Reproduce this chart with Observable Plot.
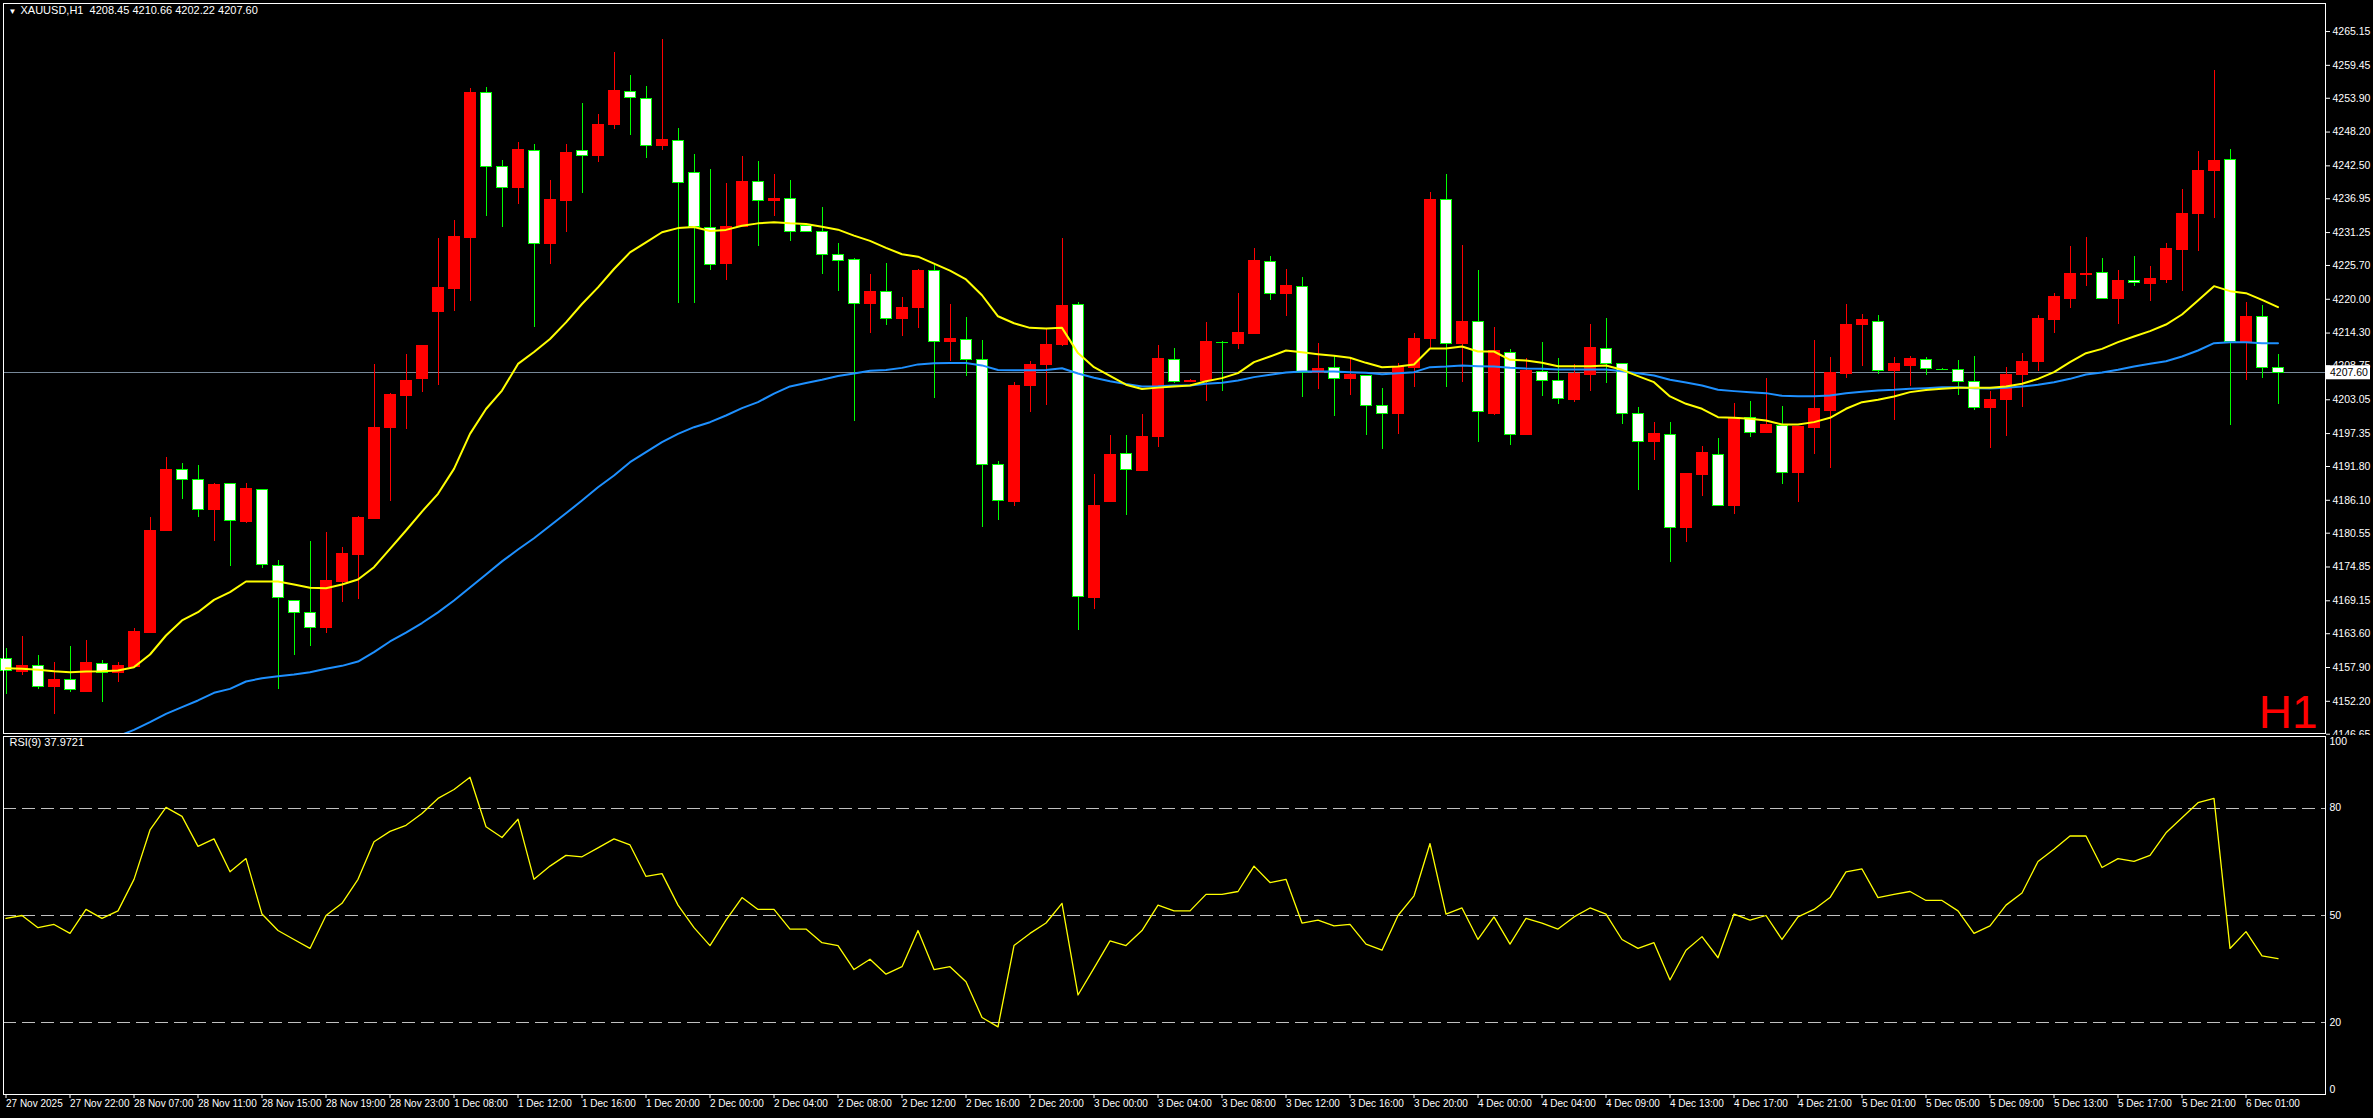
<!DOCTYPE html>
<html><head><meta charset="utf-8">
<script src="https://cdn.jsdelivr.net/npm/d3@7"></script>
<script src="https://cdn.jsdelivr.net/npm/@observablehq/plot@0.6"></script>
<style>
html,body{margin:0;padding:0;background:#000;overflow:hidden;}
#wrap{position:relative;width:2373px;height:1118px;background:#000;}
#wrap svg{position:absolute;left:0;}
</style></head><body><div id="wrap"></div>
<script>
const symbol = "XAUUSD,H1";
const timeframe = "H1";
const rsiName = "RSI(9)";
const rsiLast = 37.9721;

const opens = [4159.37,4157.12,4158.07,4154.59,4155.71,4153.85,4158.46,4156.95,4157.96,4163.69,4180.89,4191.24,4189.55,4184.43,4188.87,4182.41,4187.86,4175.05,4169.14,4167.12,4164.53,4172.29,4176.85,4182.86,4198.26,4203.66,4206.53,4217.82,4221.70,4230.30,4254.81,4242.28,4238.74,4245.00,4229.24,4236.49,4245.03,4244.13,4249.31,4254.98,4253.80,4245.82,4246.72,4241.32,4232.00,4225.92,4232.27,4239.75,4236.55,4236.95,4232.40,4231.39,4227.48,4226.66,4219.14,4221.27,4216.66,4218.49,4224.76,4212.81,4213.11,4209.73,4191.98,4185.89,4205.30,4208.85,4212.22,4219.02,4169.67,4185.88,4193.93,4191.09,4196.83,4209.79,4206.03,4206.30,4212.66,4212.43,4214.12,4226.32,4220.86,4222.10,4207.54,4208.38,4206.47,4207.09,4202.03,4200.57,4208.49,4213.22,4236.77,4212.43,4216.14,4200.68,4210.97,4197.03,4207.77,4206.25,4202.93,4207.15,4211.64,4209.12,4200.68,4195.91,4197.14,4181.40,4190.29,4193.77,4185.11,4200.01,4197.37,4198.66,4190.68,4198.27,4201.08,4207.37,4215.58,4216.20,4207.82,4208.72,4209.79,4208.15,4208.10,4206.02,4201.63,4202.98,4207.31,4209.39,4216.48,4220.02,4224.15,4224.46,4220.02,4223.11,4222.55,4223.33,4228.39,4234.46,4241.71,4243.51,4212.76,4217.04,4208.45];
const highs = [4161.06,4163.13,4159.93,4158.80,4161.44,4162.45,4159.08,4158.80,4164.42,4183.14,4193.26,4192.30,4191.97,4188.93,4188.87,4188.87,4187.86,4175.89,4169.14,4179.15,4180.67,4178.14,4183.37,4209.00,4204.05,4210.69,4212.20,4230.19,4233.28,4255.49,4255.66,4243.40,4246.38,4246.10,4240.03,4246.10,4252.96,4251.10,4261.61,4257.74,4255.88,4263.81,4248.74,4244.41,4241.88,4239.47,4244.08,4243.23,4241.04,4240.03,4232.60,4235.47,4229.38,4226.90,4224.23,4226.01,4220.38,4225.10,4225.71,4219.08,4217.01,4212.99,4192.57,4205.89,4209.44,4215.06,4230.27,4219.40,4190.50,4197.01,4197.01,4200.56,4212.28,4211.70,4206.40,4216.09,4212.88,4220.92,4228.56,4227.21,4225.02,4223.67,4212.60,4210.41,4209.96,4207.10,4204.96,4209.11,4214.29,4238.06,4241.04,4229.01,4224.85,4215.19,4211.53,4209.96,4212.66,4210.02,4209.00,4215.75,4216.76,4209.12,4201.75,4199.22,4199.22,4190.45,4195.18,4196.53,4202.43,4202.76,4206.64,4201.92,4198.55,4213.05,4210.18,4219.12,4217.44,4217.21,4210.18,4210.41,4210.18,4208.30,4209.67,4210.35,4204.45,4208.55,4210.91,4217.26,4220.97,4228.90,4230.42,4226.87,4224.85,4227.21,4225.52,4229.40,4238.51,4244.92,4258.58,4245.26,4219.45,4218.95,4210.66];
const lows = [4153.29,4156.55,4154.19,4149.92,4153.74,4153.74,4152.06,4155.43,4157.96,4163.69,4180.89,4186.18,4183.14,4179.21,4174.99,4182.24,4174.65,4154.19,4159.93,4161.50,4163.69,4168.92,4169.37,4182.86,4185.90,4197.98,4204.33,4205.46,4217.99,4219.68,4234.01,4232.16,4236.04,4215.30,4225.86,4231.32,4237.89,4243.12,4248.57,4247.62,4243.79,4245.14,4219.34,4219.34,4224.85,4223.22,4232.16,4228.90,4234.01,4229.79,4231.20,4224.23,4221.27,4199.38,4214.29,4215.65,4213.76,4215.06,4203.22,4209.44,4206.95,4181.51,4182.69,4185.06,4200.98,4202.04,4212.10,4164.17,4167.72,4185.88,4183.58,4191.09,4194.94,4205.74,4205.90,4202.82,4204.51,4211.53,4214.12,4219.79,4217.15,4203.44,4204.79,4200.23,4203.77,4197.03,4194.67,4197.20,4205.12,4211.64,4205.12,4205.97,4195.90,4200.40,4195.34,4197.03,4203.66,4202.26,4202.65,4204.45,4205.80,4198.94,4187.76,4192.81,4175.67,4179.04,4186.74,4185.17,4183.71,4196.69,4197.30,4188.77,4185.79,4193.83,4191.52,4206.70,4208.72,4207.26,4199.62,4205.29,4207.14,4208.00,4203.77,4201.24,4194.89,4196.91,4201.80,4207.87,4214.28,4218.50,4222.21,4220.07,4215.80,4222.21,4219.68,4222.66,4221.37,4228.05,4233.62,4198.71,4206.30,4206.69,4202.22];
const closes = [4157.23,4158.07,4154.59,4155.71,4154.14,4158.69,4157.00,4158.18,4163.97,4181.00,4191.29,4189.55,4184.49,4188.76,4182.63,4187.92,4175.21,4169.65,4167.12,4164.59,4172.57,4176.96,4183.03,4198.37,4203.83,4206.30,4212.04,4221.82,4230.58,4254.87,4242.39,4238.79,4245.09,4229.35,4236.66,4244.75,4244.19,4249.42,4255.04,4253.97,4245.82,4246.94,4239.58,4232.16,4225.81,4232.27,4239.86,4236.60,4236.99,4231.33,4231.33,4227.48,4226.48,4219.20,4221.27,4216.72,4218.61,4224.82,4212.81,4213.28,4209.73,4191.98,4185.95,4205.41,4208.96,4212.34,4218.79,4169.79,4185.06,4193.76,4191.21,4196.83,4209.85,4206.08,4206.30,4212.71,4212.56,4214.23,4226.37,4220.92,4222.16,4207.54,4208.27,4206.53,4207.15,4201.98,4200.68,4208.55,4213.33,4236.77,4212.49,4216.20,4201.02,4211.36,4197.14,4207.82,4206.25,4203.21,4207.32,4211.70,4209.06,4200.68,4195.96,4197.20,4181.40,4190.45,4194.00,4185.17,4200.01,4197.48,4198.72,4190.73,4198.38,4201.42,4207.54,4215.58,4216.42,4207.94,4209.00,4209.85,4208.27,4208.05,4206.02,4201.69,4203.04,4207.31,4209.50,4216.59,4220.30,4224.18,4224.30,4220.07,4223.16,4222.66,4223.50,4228.56,4234.46,4241.71,4243.40,4212.76,4217.09,4208.44,4207.60];

const maFast = [4157.79,4157.68,4157.51,4157.28,4157.11,4157.23,4157.28,4157.40,4157.96,4160.09,4163.30,4165.83,4167.23,4169.31,4170.61,4172.41,4172.41,4172.41,4171.90,4171.34,4171.28,4171.90,4172.74,4174.82,4177.91,4181.00,4184.20,4187.19,4191.40,4197.30,4201.50,4204.60,4209.10,4211.10,4213.30,4216.10,4219.20,4222.00,4225.10,4227.90,4229.60,4231.30,4232.00,4232.20,4231.50,4231.70,4232.40,4232.80,4233.00,4232.81,4232.69,4232.22,4231.74,4230.74,4229.85,4228.67,4227.60,4227.19,4226.00,4224.82,4223.34,4220.68,4217.13,4215.95,4215.18,4215.06,4215.18,4210.92,4208.55,4207.07,4205.59,4204.88,4205.10,4205.29,4205.46,4206.19,4206.70,4207.54,4209.40,4210.35,4211.36,4211.08,4210.74,4210.46,4210.13,4209.28,4208.55,4208.66,4209.00,4211.70,4211.70,4212.04,4211.19,4211.19,4209.79,4209.68,4209.30,4208.72,4208.72,4208.72,4208.84,4208.10,4207.04,4206.02,4203.61,4202.37,4201.53,4200.12,4200.01,4199.84,4199.56,4198.89,4198.89,4199.28,4200.01,4201.53,4202.65,4203.05,4203.61,4204.34,4204.68,4204.90,4205.06,4205.06,4205.06,4205.29,4205.74,4206.58,4207.71,4209.39,4210.91,4211.64,4212.77,4213.72,4214.62,4215.74,4217.43,4219.79,4222.21,4221.37,4221.03,4219.90,4218.67];
const maSlow = [null,null,null,null,null,null,null,4146.30,4147.39,4148.68,4150.09,4151.21,4152.34,4153.63,4154.30,4155.54,4156.10,4156.44,4156.72,4157.11,4157.68,4158.18,4158.91,4160.49,4162.29,4163.80,4165.40,4167.20,4169.20,4171.40,4173.60,4175.80,4177.80,4179.70,4181.80,4183.90,4186.07,4188.30,4190.28,4192.53,4194.22,4195.90,4197.30,4198.43,4199.27,4200.40,4201.64,4202.65,4204.10,4205.30,4205.89,4206.42,4207.07,4207.49,4207.96,4208.08,4208.43,4209.02,4209.20,4209.26,4209.26,4208.85,4208.08,4208.02,4208.02,4208.08,4208.37,4207.49,4206.78,4206.19,4205.71,4205.30,4205.32,4205.46,4205.46,4205.74,4205.91,4206.30,4206.87,4207.26,4207.65,4207.82,4207.82,4207.82,4207.71,4207.60,4207.37,4207.54,4207.71,4208.55,4208.66,4208.83,4208.72,4208.66,4208.44,4208.33,4208.30,4208.16,4208.16,4208.16,4208.16,4207.88,4207.54,4207.15,4206.42,4205.97,4205.46,4204.73,4204.51,4204.34,4204.17,4203.72,4203.66,4203.66,4203.78,4204.17,4204.40,4204.62,4204.73,4204.90,4205.01,4205.17,4205.17,4205.01,4204.95,4205.06,4205.29,4205.57,4206.02,4206.58,4207.31,4207.65,4208.10,4208.66,4209.11,4209.56,4210.35,4211.36,4212.60,4212.77,4212.77,4212.60,4212.60];
const rsi = [49.2,50.0,46.6,47.5,45.0,51.7,49.2,51.3,60.1,73.9,80.2,77.7,69.3,71.4,62.2,65.9,50.4,45.8,43.3,40.8,50.0,53.4,60.1,70.6,73.5,75.2,78.5,82.7,85.2,88.6,74.8,71.8,76.9,60.1,63.8,66.8,66.4,68.9,71.4,69.7,60.9,61.7,52.9,46.6,41.6,48.7,55.0,51.7,51.7,46.2,46.2,42.4,41.6,34.9,37.8,33.6,35.7,45.8,34.9,35.7,31.5,21.5,18.9,41.6,45.0,47.9,53.4,27.8,35.3,42.9,41.6,45.8,52.9,51.3,51.3,55.9,55.9,56.7,63.8,59.2,60.1,47.9,48.7,47.1,47.5,42.0,40.3,50.0,55.5,70.1,50.4,52.1,43.3,49.6,42.0,49.2,47.9,46.2,49.6,52.1,50.4,43.3,40.8,42.4,32.0,40.3,44.1,38.2,50.4,48.7,50.0,43.3,49.6,51.7,55.0,62.2,63.0,55.0,55.9,56.7,54.2,54.2,51.3,45.0,47.1,52.9,56.3,65.1,68.5,72.2,72.2,63.4,65.9,65.1,66.8,73.1,77.3,81.5,82.7,40.8,45.5,38.7,37.97];

const xLabels = ["27 Nov 2025","27 Nov 22:00","28 Nov 07:00","28 Nov 11:00","28 Nov 15:00","28 Nov 19:00","28 Nov 23:00","1 Dec 08:00","1 Dec 12:00","1 Dec 16:00","1 Dec 20:00","2 Dec 00:00","2 Dec 04:00","2 Dec 08:00","2 Dec 12:00","2 Dec 16:00","2 Dec 20:00","3 Dec 00:00","3 Dec 04:00","3 Dec 08:00","3 Dec 12:00","3 Dec 16:00","3 Dec 20:00","4 Dec 00:00","4 Dec 04:00","4 Dec 09:00","4 Dec 13:00","4 Dec 17:00","4 Dec 21:00","5 Dec 01:00","5 Dec 05:00","5 Dec 09:00","5 Dec 13:00","5 Dec 17:00","5 Dec 21:00","6 Dec 01:00"];
const priceTicks = [4265.15,4259.45,4253.90,4248.20,4242.50,4236.95,4231.25,4225.70,4220.00,4214.30,4208.75,4203.05,4197.35,4191.80,4186.10,4180.55,4174.85,4169.15,4163.60,4157.90,4152.20,4146.65];
const rsiLevels = [20, 50, 80];
const rsiBounds = [0, 100];
const labelStep = 4;

// ---- build ----
const W = 2373;
const FONT = "'Liberation Sans', Arial, sans-serif";
const RED = "#ff0000", GREEN = "#00ff00", WHITE = "#ffffff";
const X0 = -0.15625, X1 = X0 + 2322 / 16;
const HW = 0.34375;
const bars = opens.map((o, i) => ({i, o, h: highs[i], l: lows[i], c: closes[i]}));
const idx = d3.range(bars.length);
const last = bars[bars.length - 1];
const header = `${symbol}  ${last.o.toFixed(2)} ${last.h.toFixed(2)} ${last.l.toFixed(2)} ${last.c.toFixed(2)}`;
const xTicks = xLabels.map((_, k) => k * labelStep);
const bull = d => d.c > d.o;

const main = Plot.plot({
  width: W, height: 735,
  marginLeft: 3, marginRight: 48, marginTop: 3, marginBottom: 2,
  style: {background: "#000", color: "#fff", fontFamily: FONT, fontSize: "11px", overflow: "visible"},
  x: {domain: [X0, X1], axis: null},
  y: {domain: [4146.77, 4269.88], axis: null},
  color: {type: "identity"},
  marks: [
    Plot.ruleY([last.c], {stroke: "#778899", strokeWidth: 1, shapeRendering: "crispEdges"}),
    Plot.ruleX(bars, {x: "i", y1: "l", y2: "h", stroke: d => bull(d) ? RED : GREEN, strokeWidth: 1, shapeRendering: "crispEdges"}),
    Plot.rect(bars, {
      x1: d => d.i - HW, x2: d => d.i + HW,
      y1: d => Math.min(d.o, d.c), y2: d => Math.max(d.o, d.c),
      fill: d => bull(d) ? RED : WHITE, stroke: d => bull(d) ? RED : GREEN,
      strokeWidth: 1, shapeRendering: "crispEdges"
    }),
    Plot.line(idx, {x: d => d, y: d => maSlow[d], stroke: "#1e90ff", strokeWidth: 2, clip: true}),
    Plot.line(idx, {x: d => d, y: d => maFast[d], stroke: "#ffff00", strokeWidth: 2, clip: true}),
    Plot.frame({stroke: "#fff", shapeRendering: "crispEdges"}),
    Plot.axisY(priceTicks, {anchor: "right", tickSize: 4, tickPadding: 3, tickFormat: d => d.toFixed(2), color: "#fff", fontSize: 10.5, label: null}),
    Plot.text(["\u25BC"], {frameAnchor: "top-left", dx: 5, dy: 5, lineAnchor: "top", textAnchor: "start", fill: "#fff", fontSize: 8}),
    Plot.text([header], {frameAnchor: "top-left", dx: 17, dy: 3, lineAnchor: "top", textAnchor: "start", fill: "#fff", fontSize: 11}),
    Plot.text([timeframe], {frameAnchor: "bottom-right", dx: -8, dy: -6, lineAnchor: "bottom", textAnchor: "end", fill: RED, fontSize: 46})
  ]
});
main.style.top = "0px";

const rsiChart = Plot.plot({
  width: W, height: 383,
  marginLeft: 3, marginRight: 48, marginTop: 1, marginBottom: 24,
  style: {background: "#000", color: "#fff", fontFamily: FONT, fontSize: "11px", overflow: "visible"},
  x: {domain: [X0, X1]},
  y: {domain: rsiBounds, axis: null},
  marks: [
    Plot.ruleY(rsiLevels, {stroke: "#c0c0c0", strokeDasharray: "13,6", strokeWidth: 1, shapeRendering: "crispEdges"}),
    Plot.line(idx, {x: d => d, y: d => rsi[d], stroke: "#ffff00", strokeWidth: 1.3}),
    Plot.frame({stroke: "#fff", shapeRendering: "crispEdges"}),
    Plot.axisX(xTicks, {anchor: "bottom", tickSize: 4, tickPadding: 1, tickFormat: d => xLabels[d / labelStep], textAnchor: "start", dx: 0, color: "#fff", fontSize: 10, label: null}),
    Plot.text(rsiLevels, {x: () => X1, y: d => d, dx: 4, textAnchor: "start", text: d => String(d), fill: "#fff", fontSize: 10.5}),
    Plot.text([rsiBounds[1]], {x: () => X1, y: d => d, dx: 4, dy: 5, textAnchor: "start", text: d => String(d), fill: "#fff", fontSize: 10.5}),
    Plot.text([rsiBounds[0]], {x: () => X1, y: d => d, dx: 4, dy: -5, textAnchor: "start", text: d => String(d), fill: "#fff", fontSize: 10.5}),
    Plot.text([`${rsiName} ${rsiLast.toFixed(4)}`], {frameAnchor: "top-left", dx: 6, dy: 2, lineAnchor: "top", textAnchor: "start", fill: "#fff", fontSize: 11})
  ]
});
rsiChart.style.top = "735px";

const wrap = document.getElementById("wrap");
wrap.appendChild(main);
wrap.appendChild(rsiChart);

// current price tag on the price axis
const ySc = main.scale("y"), xSc = main.scale("x");
const py = ySc.apply(last.c), px = xSc.apply(X1) + 1;
const tag = d3.select(main).append("g").attr("text-anchor", "start");
tag.append("rect").attr("x", px).attr("y", py - 7).attr("width", 44).attr("height", 14).attr("fill", "#fff");
tag.append("text").attr("x", px + 4).attr("y", py).attr("dy", "0.35em").attr("fill", "#000")
  .attr("text-anchor", "start").attr("font-size", 10.5).attr("font-family", FONT).text(last.c.toFixed(2));
</script>
</body></html>
